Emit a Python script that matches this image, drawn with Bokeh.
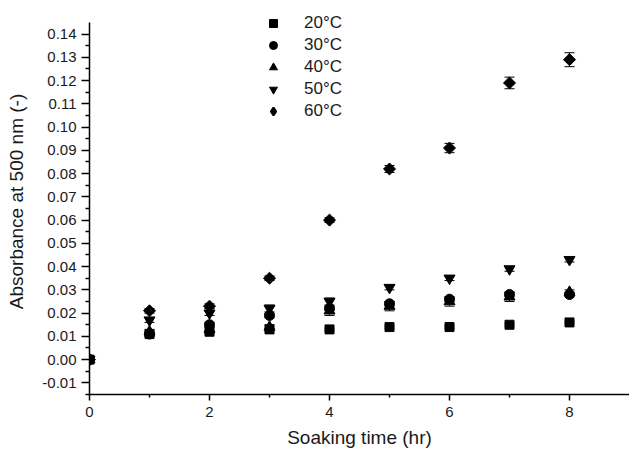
import math
from bokeh.plotting import figure
from bokeh.models import (ColumnDataSource, Whisker, TeeHead, FixedTicker, Legend, LegendItem,
                          Range1d, CustomJSTickFormatter)
from bokeh.embed import file_html
from bokeh.resources import INLINE

time_hr = [0, 1, 2, 3, 4, 5, 6, 7, 8]
series_labels = ["20°C", "30°C", "40°C", "50°C", "60°C"]
abs_20 = [0.000, 0.011, 0.012, 0.013, 0.013, 0.014, 0.014, 0.015, 0.016]
abs_30 = [0.000, 0.011, 0.015, 0.019, 0.022, 0.024, 0.026, 0.028, 0.028]
abs_40 = [0.000, 0.012, 0.013, 0.014, 0.021, 0.023, 0.025, 0.027, 0.029]
abs_50 = [0.000, 0.017, 0.020, 0.022, 0.025, 0.031, 0.035, 0.039, 0.043]
abs_60 = [0.000, 0.021, 0.023, 0.035, 0.060, 0.082, 0.091, 0.119, 0.129]
err_20 = [0.0, 0.0005, 0.0005, 0.0005, 0.0005, 0.0005, 0.0005, 0.0005, 0.0005]
err_30 = [0.0, 0.001, 0.001, 0.001, 0.001, 0.001, 0.001, 0.001, 0.001]
err_40 = [0.0, 0.001, 0.001, 0.001, 0.002, 0.002, 0.002, 0.002, 0.001]
err_50 = [0.0, 0.001, 0.001, 0.0015, 0.0015, 0.001, 0.001, 0.001, 0.001]
err_60 = [0.0, 0.001, 0.001, 0.001, 0.001, 0.0015, 0.002, 0.0025, 0.003]
y_major_ticks = [-0.01, 0.0, 0.01, 0.02, 0.03, 0.04, 0.05, 0.06, 0.07, 0.08, 0.09, 0.10, 0.11, 0.12, 0.13, 0.14]
x_major_ticks = [0, 2, 4, 6, 8]
y_axis_bounds = (-0.015, 0.145)

FONT = "Liberation Sans"
TXT = "#1a1a1a"

p = figure(width=629, height=453, output_backend="svg", toolbar_location=None,
           x_range=Range1d(0, 9), y_range=Range1d(-0.015, 0.15102),
           min_border_left=89, min_border_right=0, min_border_top=8, min_border_bottom=59)
p.outline_line_color = None
p.grid.visible = False

markers = [
    ("square", 9, 0.0),
    ("circle", 10, 0.0),
    ("triangle", 11, 0.0),
    ("inverted_triangle", 11, 0.0),
    ("square", 8.5, math.pi / 4),
]
ys = [abs_20, abs_30, abs_40, abs_50, abs_60]
errs = [err_20, err_30, err_40, err_50, err_60]

items = []
for i, (lbl, y, e, (mk, sz, ang)) in enumerate(zip(series_labels, ys, errs, markers)):
    src = ColumnDataSource(dict(
        x=time_hr, y=y,
        lo=[a - b for a, b in zip(y, e)],
        hi=[a + b for a, b in zip(y, e)],
    ))
    w = Whisker(source=src, base="x", lower="lo", upper="hi", line_color="black", line_width=1,
                upper_head=TeeHead(size=10, line_color="black", line_width=1),
                lower_head=TeeHead(size=10, line_color="black", line_width=1))
    p.add_layout(w)
    r = p.scatter("x", "y", source=src, marker=mk, size=sz, angle=ang,
                  fill_color="black", line_color="black")
    if ang != 0.0:
        # legend glyph: diamond (legend ignores marker angle)
        r = p.scatter(x=[float("nan")], y=[float("nan")], marker="diamond", size=14,
                      line_width=2, fill_color="black", line_color="black")
    items.append(LegendItem(label=lbl, renderers=[r]))

legend = Legend(items=items, location=(174, 273))
legend.background_fill_alpha = 0
legend.border_line_color = None
legend.padding = 0
legend.margin = 0
legend.spacing = 2
legend.glyph_width = 20
legend.glyph_height = 20
legend.label_height = 20
legend.label_standoff = 21
legend.label_text_font = FONT
legend.label_text_font_size = "17px"
legend.label_text_color = TXT
p.add_layout(legend)

for ax in (p.xaxis[0], p.yaxis[0]):
    ax.axis_line_width = 1.5
    ax.axis_line_color = "black"
    ax.major_tick_line_color = "black"
    ax.minor_tick_line_color = "black"
    ax.major_tick_line_width = 1.5
    ax.minor_tick_line_width = 1.5
    ax.major_tick_in = 0
    ax.minor_tick_in = 0
    ax.major_label_text_font = FONT
    ax.major_label_text_font_size = "15px"
    ax.major_label_text_color = TXT
    ax.axis_label_text_font = FONT
    ax.axis_label_text_font_size = "19px"
    ax.axis_label_text_font_style = "normal"
    ax.axis_label_text_color = TXT

p.yaxis.bounds = y_axis_bounds
p.yaxis.ticker = FixedTicker(ticks=y_major_ticks,
                             minor_ticks=[v + 0.005 for v in y_major_ticks[:-1]] + [-0.015])
p.xaxis.ticker = FixedTicker(ticks=x_major_ticks, minor_ticks=[1, 3, 5, 7])
p.yaxis.major_tick_out = 8
p.yaxis.minor_tick_out = 4
p.xaxis.major_tick_out = 6
p.xaxis.minor_tick_out = 3
p.yaxis.major_label_standoff = 5
p.xaxis.major_label_standoff = 6
p.yaxis.axis_label = "Absorbance at 500 nm (-)"
p.xaxis.axis_label = "Soaking time (hr)"
p.yaxis.axis_label_standoff = 12
p.xaxis.axis_label_standoff = 7
p.yaxis.formatter = CustomJSTickFormatter(code="return tick.toFixed(2);")

open("out.html", "w").write(file_html(p, INLINE))
